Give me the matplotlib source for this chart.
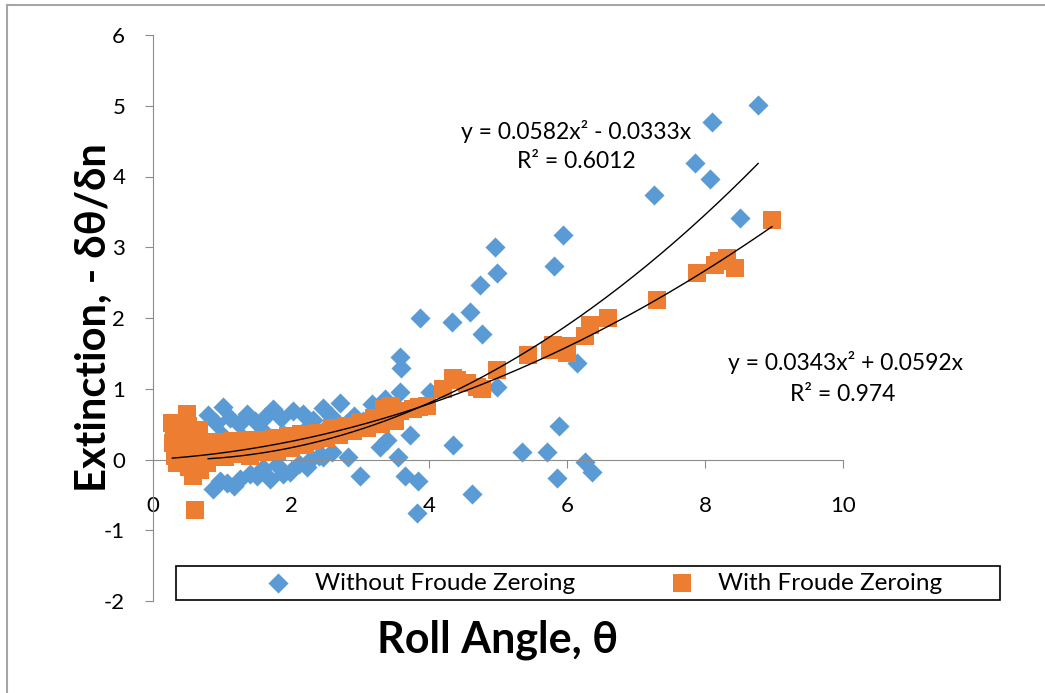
import numpy as np
import matplotlib.pyplot as plt
from matplotlib.lines import Line2D
from matplotlib.patches import Rectangle

plt.rcParams['font.family'] = ['Lato', 'DejaVu Sans']
plt.rcParams['axes.unicode_minus'] = False

# roll angle vs extinction, without Froude zeroing
without_x = [8.77, 8.10, 7.86, 8.07, 7.26, 8.51, 5.94, 4.96, 5.81, 4.98, 4.74, 4.59,
             3.87, 4.33, 4.77, 3.58, 3.60, 6.14, 4.98, 4.01, 3.58, 3.36, 3.17, 5.88,
             5.35, 5.71, 4.35, 3.72, 6.26, 6.36, 5.85, 4.62, 3.82, 3.84, 3.65, 3.00,
             3.29, 3.39, 2.83, 3.55,
             0.80, 0.92, 1.01, 1.12, 1.25, 1.36, 1.48, 1.62, 1.74, 1.86, 2.03, 2.17,
             2.32, 2.46, 2.58, 2.71, 2.92,
             1.00, 1.30, 1.60, 1.90, 2.20, 2.50, 2.80, 3.05, 3.30, 1.20, 1.70, 2.40,
             0.87, 0.97, 1.07, 1.18, 1.26, 1.40, 1.51, 1.60, 1.70, 1.80, 1.89, 1.99,
             2.12, 2.23, 2.28, 2.40, 2.47, 2.60]
without_y = [5.01, 4.77, 4.19, 3.97, 3.74, 3.42, 3.18, 3.01, 2.73, 2.64, 2.47, 2.09,
             2.00, 1.95, 1.77, 1.45, 1.29, 1.37, 1.03, 0.95, 0.95, 0.85, 0.78, 0.47,
             0.11, 0.11, 0.21, 0.35, -0.04, -0.18, -0.26, -0.49, -0.75, -0.31, -0.24, -0.24,
             0.17, 0.28, 0.03, 0.04,
             0.63, 0.52, 0.74, 0.58, 0.50, 0.64, 0.55, 0.60, 0.71, 0.58, 0.68, 0.64,
             0.56, 0.73, 0.62, 0.80, 0.62,
             0.35, 0.30, 0.40, 0.35, 0.42, 0.45, 0.50, 0.55, 0.62, 0.15, 0.20, 0.25,
             -0.42, -0.30, -0.33, -0.38, -0.28, -0.20, -0.24, -0.12, -0.28, -0.08, -0.21, -0.18,
             -0.06, -0.10, 0.00, 0.05, 0.03, 0.10]

# with Froude zeroing
with_x = [0.28, 0.29, 0.30, 0.32, 0.35, 0.38, 0.39, 0.43, 0.45, 0.49, 0.50, 0.52,
          0.55, 0.58, 0.60, 0.61, 0.63, 0.66, 0.68, 0.70, 0.74, 0.78,
          0.80, 0.85, 0.90, 0.95, 1.00, 1.05, 1.10, 1.15, 1.20, 1.25, 1.30, 1.35,
          1.40, 1.45, 1.50, 1.55, 1.60, 1.65, 1.70, 1.75, 1.80, 1.85, 1.90, 1.95,
          2.00, 2.05, 2.10, 2.15, 2.20, 2.25, 2.30, 2.40, 2.50, 2.60, 2.70, 2.80,
          2.90, 3.00, 3.10, 3.20, 3.30, 3.35, 3.40, 3.45, 3.50,
          3.58, 3.77, 3.85, 3.97, 4.20, 4.35, 4.40, 4.55, 4.70, 4.77, 4.98, 5.43,
          5.75, 5.80, 6.00, 6.00, 6.26, 6.33, 6.60, 7.30, 7.88, 8.14, 8.20, 8.32,
          8.43, 8.97]
with_y = [0.52, 0.24, 0.38, 0.05, -0.05, 0.15, 0.00, 0.10, 0.35, 0.64, 0.48, -0.10,
          0.15, -0.24, 0.30, -0.71, 0.05, 0.42, -0.15, 0.20, 0.10, -0.05,
          0.20, 0.05, 0.25, 0.10, 0.22, 0.03, 0.18, 0.26, 0.08, 0.20, 0.12, 0.27,
          0.05, 0.22, 0.15, 0.28, 0.10, 0.24, 0.14, 0.30, 0.12, 0.26, 0.18, 0.33,
          0.16, 0.30, 0.22, 0.36, 0.20, 0.34, 0.26, 0.38, 0.30, 0.45, 0.35, 0.48,
          0.40, 0.53, 0.44, 0.58, 0.50, 0.72, 0.62, 0.75, 0.55,
          0.68, 0.71, 0.74, 0.75, 1.00, 1.15, 1.13, 1.08, 1.03, 0.99, 1.27, 1.48,
          1.55, 1.62, 1.60, 1.51, 1.74, 1.90, 2.00, 2.26, 2.64, 2.75, 2.80, 2.85,
          2.71, 3.39]

# polynomial trendlines (a*x^2 + b*x), as printed on the chart
without_fit = (0.0582, -0.0333)
with_fit = (0.0343, 0.0592)

blue = '#5B9BD5'
orange = '#ED7D31'
grey = '#8C8C8C'

fig = plt.figure(figsize=(10.45, 6.93), dpi=100)
ax = fig.add_axes([153 / 1045, 1 - 601 / 693, 690 / 1045, 566 / 693])

ax.scatter(without_x, without_y, marker='D', s=105, color=blue, linewidths=0,
           label='Without Froude Zeroing', zorder=2)
ax.scatter(with_x, with_y, marker='s', s=175, color=orange, linewidths=0,
           label='With Froude Zeroing', zorder=3)

# trendlines
xs = np.linspace(min(without_x), max(without_x), 200)
ax.plot(xs, without_fit[0] * xs ** 2 + without_fit[1] * xs, color='black', lw=1, zorder=4)
xs = np.linspace(min(with_x), max(with_x), 200)
ax.plot(xs, with_fit[0] * xs ** 2 + with_fit[1] * xs, color='black', lw=1, zorder=4)

ax.text(6.13, 4.63, 'y = 0.0582x² - 0.0333x', ha='center', va='center', fontsize=16.5)
ax.text(6.13, 4.21, 'R² = 0.6012', ha='center', va='center', fontsize=16.5)
ax.text(10.03, 1.37, 'y = 0.0343x² + 0.0592x', ha='center', va='center', fontsize=16.5)
ax.text(10.0, 0.92, 'R² = 0.974', ha='center', va='center', fontsize=16.5)

# axes: y axis on the left, x axis crossing at zero
ax.set_xlim(0, 10)
ax.set_ylim(-2, 6)
ax.set_xticks([0, 2, 4, 6, 8, 10])
ax.set_yticks(range(-2, 7))
ax.spines['top'].set_visible(False)
ax.spines['right'].set_visible(False)
ax.spines['bottom'].set_position(('data', 0))
ax.spines['bottom'].set_color(grey)
ax.spines['left'].set_color(grey)
ax.tick_params(axis='both', direction='out', length=6, color=grey, labelsize=16)
ax.tick_params(axis='x', pad=20)
ax.tick_params(axis='y', pad=14)
ax.patch.set_visible(False)

fig.text(94 / 1045, 1 - 318 / 693, 'Extinction, - δθ/δn', rotation=90,
         ha='center', va='center', fontsize=30, fontweight='bold')
fig.text(498 / 1045, 1 - 640 / 693, 'Roll Angle, θ', ha='center', va='center',
         fontsize=31, fontweight='bold')

# legend with a box across the bottom
fig.legend(loc='center', bbox_to_anchor=(598 / 1045, 1 - 583 / 693), ncol=2,
           frameon=False, fontsize=17.5, columnspacing=3.4, handletextpad=0.5,
           scatterpoints=1)
fig.patches.append(Rectangle((176 / 1045, 1 - 600 / 693), 824 / 1045, 34 / 693,
                             transform=fig.transFigure, fill=False,
                             edgecolor='black', lw=1.2))

# chart area border (left and top only are in view)
fig.lines.append(Line2D([7 / 1045, 7 / 1045], [0, 1 - 5 / 693], transform=fig.transFigure,
                        color='#A6A6A6', lw=1.5))
fig.lines.append(Line2D([7 / 1045, 1], [1 - 5 / 693, 1 - 5 / 693], transform=fig.transFigure,
                        color='#A6A6A6', lw=1.5))

fig.savefig('out.png', dpi=100)
